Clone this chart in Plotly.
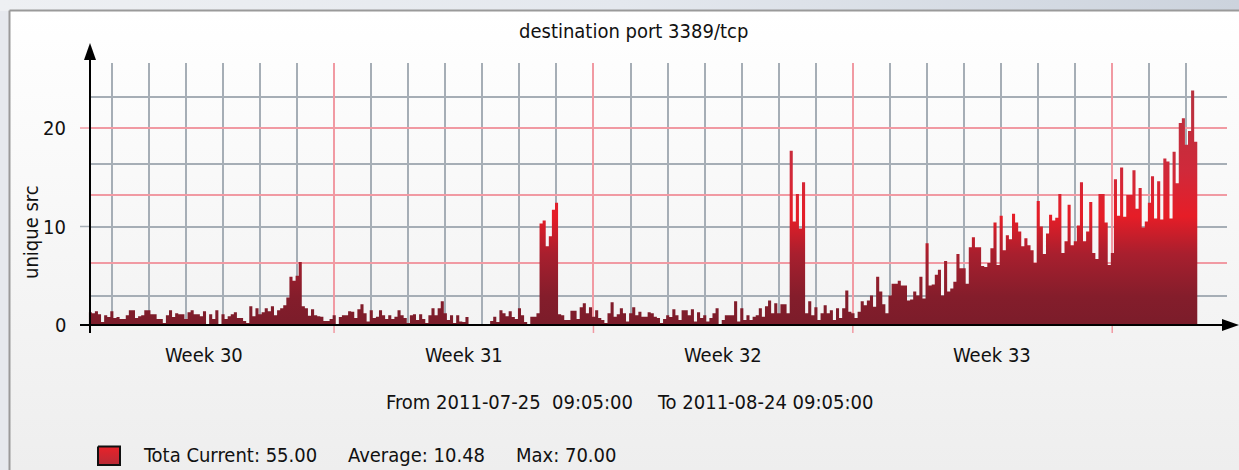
import pandas as pd
import plotly.graph_objects as go

# ---- series: unique sources per 2-hour bin, starting 2011-07-25 09:05 ----
series_start = "2011-07-25 09:05"
bin_hours = 2
unique_src = [
    1.3, 1.2, 1.4, 1.1, 0.3, 1.0, 0.8, 1.4, 0.7, 0.8,
    0.6, 0.6, 1.0, 1.5, 1.5, 0.7, 0.9, 1.0, 1.5, 1.5,
    1.1, 1.1, 0.6, 0.6, 0.2, 1.0, 1.5, 0.8, 1.2, 1.1,
    1.1, 0.6, 1.3, 1.5, 1.1, 1.1, 0.9, 1.4, 0.1, 1.1,
    0.6, 1.5, 0.1, 1.1, 0.6, 0.9, 1.1, 1.3, 0.7, 0.7,
    0.4, 0.2, 1.9, 0.9, 1.7, 1.1, 1.3, 1.7, 1.4, 1.9,
    1.0, 1.5, 1.7, 2.0, 2.8, 4.9, 4.5, 5.0, 6.4, 1.9,
    1.7, 0.95, 1.6, 1.0, 0.9, 0.85, 0.4, 0.4, 0.6, 1.0,
    0.1, 0.8, 1.0, 1.0, 1.4, 1.35, 0.7, 1.6, 2.1, 1.2,
    0.35, 1.5, 0.7, 0.85, 1.5, 1.0, 0.6, 1.0, 0.6, 0.85,
    1.5, 1.0, 0.7, 0.2, 1.0, 1.1, 0.5, 1.1, 0.6, 0.2,
    1.0, 1.7, 1.0, 1.7, 2.4, 1.2, 0.5, 1.0, 0.2, 1.0,
    0.35, 0.3, 0.8, 0.0, 0.0, 0.0, 0.0, 0.0, 0.0, 0.0,
    0.4, 0.85, 0.3, 1.5, 1.2, 0.9, 1.4, 0.8, 0.6, 1.7,
    1.0, 0.3, 0.1, 0.85, 0.85, 1.2, 10.3, 10.6, 8.0, 9.0,
    11.7, 12.4, 1.1, 1.0, 0.5, 0.5, 1.45, 1.45, 0.6, 1.8,
    2.2, 1.2, 1.8, 0.85, 1.5, 0.7, 0.5, 0.2, 1.2, 2.3,
    0.85, 1.1, 1.7, 1.2, 0.35, 1.2, 1.8, 1.0, 1.35, 0.85,
    0.85, 1.3, 1.2, 0.85, 0.7, 0.2, 0.6, 1.0, 0.8, 1.6,
    1.0, 0.5, 1.5, 1.5, 1.0, 1.6, 0.35, 1.3, 0.7, 1.0,
    0.35, 0.7, 1.2, 1.7, 0.05, 0.5, 1.0, 1.0, 1.0, 2.4,
    0.35, 1.7, 0.5, 1.0, 0.5, 0.85, 1.0, 1.7, 0.85, 1.9,
    2.5, 1.2, 2.2, 1.2, 2.1, 2.1, 1.2, 17.7, 10.5, 13.3,
    9.8, 14.5, 1.2, 2.4, 1.0, 1.8, 0.5, 1.2, 2.0, 1.2,
    1.5, 0.5, 1.7, 0.7, 1.7, 3.5, 1.35, 1.2, 0.7, 1.35,
    2.4, 2.0, 2.5, 3.0, 1.85, 4.9, 3.4, 2.1, 1.2, 3.0,
    4.2, 4.2, 4.5, 4.0, 4.0, 2.5, 2.6, 3.4, 3.0, 4.9,
    2.7, 8.3, 4.0, 4.1, 5.1, 5.6, 3.0, 6.5, 3.4, 3.7,
    4.4, 7.2, 5.75, 5.75, 4.2, 7.9, 8.9, 7.9, 7.9, 6.0,
    5.9, 6.3, 7.8, 10.4, 6.1, 11.1, 7.6, 9.1, 8.7, 11.3,
    10.4, 9.5, 8.0, 8.8, 8.1, 7.6, 6.3, 12.6, 10.0, 7.2,
    9.3, 11.2, 10.6, 10.9, 13.3, 7.3, 8.5, 12.2, 8.1, 8.5,
    10.1, 14.5, 8.5, 9.5, 12.5, 7.3, 6.7, 13.3, 13.3, 10.4,
    6.1, 7.3, 14.8, 11.1, 16.0, 11.0, 13.2, 13.2, 15.7, 11.8,
    13.9, 9.9, 10.5, 12.4, 15.1, 10.8, 14.6, 10.7, 16.9, 16.6,
    10.8, 17.6, 14.4, 20.5, 21.0, 18.3, 19.7, 23.8, 18.6,
]

# ---- axes / labels ----
x_range = ["2011-07-25 09:05", "2011-08-25 02:20"]
y_range = [0, 26.6]
y_tick_values = [0, 10, 20]
y_grid_red = [6.3, 13.2, 20.0]
y_grid_gray = [2.95, 9.95, 16.3, 23.1]
day_lines = pd.date_range("2011-07-26", "2011-08-24", freq="D")
week_starts = [d for d in day_lines if d.weekday() == 0]
other_days = [d for d in day_lines if d.weekday() != 0]
week_labels = ["Week 30", "Week 31", "Week 32", "Week 33"]
week_label_times = ["2011-07-28 12:00", "2011-08-04 12:00", "2011-08-11 12:00", "2011-08-18 18:00"]
title_text = "destination port 3389/tcp"
y_title = "unique src"
period_texts = ["From 2011-07-25\u00a0\u00a009:05:00", "To 2011-08-24 09:05:00"]
legend_texts = ["Tota Current: 55.00", "Average: 10.48", "Max: 70.00"]

FONT = "DejaVu Sans Condensed, sans-serif"
FS = 20
INK = "#111111"
GRID_GRAY = "#a6aeb6"
GRID_RED = "#f19aa3"

W, H = 1239, 470
PX_LEFT, PX_RIGHT, PX_TOP, PX_BASE = 88.7, 1227.0, 63.0, 325.0

start = pd.Timestamp(series_start)
step = pd.Timedelta(hours=bin_hours)
times = [start + step * i for i in range(len(unique_src))]
# closing edge of the last step
step_x = times + [times[-1] + step]
step_y = unique_src + [unique_src[-1]]

fig = go.Figure()

# pixel-space backdrop (x, y) covering the whole figure
fig.add_trace(go.Scatter(
    x=[0, W + 5, W + 5, 0, 0], y=[-2, -2, 11, 11, -2],
    mode="lines", fill="toself", line=dict(width=0),
    fillgradient=dict(type="horizontal", start=0, stop=W,
                      colorscale=[[0, "#eef0f3"], [0.5, "#e4e8ee"], [1, "#ccd3dd"]]),
    hoverinfo="skip", xaxis="x", yaxis="y",
))
fig.add_trace(go.Scatter(
    x=[9.5, W + 6, W + 6, 9.5, 9.5], y=[10.5, 10.5, H + 6, H + 6, 10.5],
    mode="lines", fill="toself", line=dict(color="#9a9a9a", width=2),
    fillgradient=dict(type="vertical", start=10, stop=H,
                      colorscale=[[0, "#ffffff"], [1, "#eeeeee"]]),
    hoverinfo="skip", xaxis="x", yaxis="y",
))
# legend swatch
fig.add_trace(go.Scatter(
    x=[98, 120, 120, 98, 98], y=[446.5, 446.5, 465, 465, 446.5],
    mode="lines", fill="toself", line=dict(color="#111111", width=2),
    fillgradient=dict(type="vertical", start=446, stop=465,
                      colorscale=[[0, "#ea2229"], [1, "#b82a36"]]),
    hoverinfo="skip", xaxis="x", yaxis="y",
))

# data: step area with a value-based vertical gradient
fig.add_trace(go.Scatter(
    x=step_x, y=step_y, mode="lines", line=dict(shape="hv", width=0, color="#8a1e2c"),
    fill="tozeroy",
    fillgradient=dict(type="vertical", start=0, stop=24,
                      colorscale=[[0.0, "#7b1c2a"], [0.12, "#841d2b"], [0.3, "#a81f2e"],
                                  [0.46, "#e61d27"], [0.65, "#d0293a"], [1.0, "#b5323f"]]),
    hoverinfo="skip", xaxis="x2", yaxis="y2",
))

shapes = []
# y axis with arrow
shapes.append(dict(type="line", xref="x", yref="y", x0=90, x1=90, y0=333, y1=58,
                   line=dict(color="#000", width=2), layer="above"))
shapes.append(dict(type="path", xref="x", yref="y", path="M 84 60 L 90 43 L 96 60 Z",
                   fillcolor="#000", line=dict(width=0), layer="above"))
# x axis with arrow
shapes.append(dict(type="line", xref="x", yref="y", x0=80, x1=1224, y0=PX_BASE, y1=PX_BASE,
                   line=dict(color="#000", width=2), layer="above"))
shapes.append(dict(type="path", xref="x", yref="y", path="M 1222 319 L 1239 325 L 1222 331 Z",
                   fillcolor="#000", line=dict(width=0), layer="above"))
# week ticks below the axis
for d in week_starts:
    shapes.append(dict(type="line", xref="x2", yref="y", x0=d, x1=d, y0=PX_BASE + 1, y1=333,
                       line=dict(color=GRID_RED, width=1.5), layer="above"))
# value ticks left of the axis
for v in y_tick_values[1:]:
    shapes.append(dict(type="line", xref="x", yref="y2", x0=80, x1=89, y0=v, y1=v,
                       line=dict(color=GRID_RED if v == 20 else GRID_GRAY, width=1.5), layer="above"))

annotations = []
annotations.append(dict(xref="x", yref="y", x=633, y=31, text=title_text, showarrow=False,
                        font=dict(family=FONT, size=FS, color=INK)))
annotations.append(dict(xref="x", yref="y", x=31, y=232, text=y_title, showarrow=False,
                        textangle=-90, font=dict(family=FONT, size=FS, color=INK)))
for v in y_tick_values:
    annotations.append(dict(xref="x", yref="y2", x=68, y=v, text=str(v), showarrow=False,
                            xanchor="right", font=dict(family=FONT, size=FS, color=INK)))
for t, lbl in zip(week_label_times, week_labels):
    annotations.append(dict(xref="x2", yref="y", x=t, y=355, text=lbl, showarrow=False,
                            font=dict(family=FONT, size=FS, color=INK)))
for px, txt in zip([384, 655], period_texts):
    annotations.append(dict(xref="x", yref="y", x=px, y=402, text=txt, showarrow=False,
                            xanchor="left", font=dict(family=FONT, size=FS, color=INK)))
for px, txt in zip([141, 346, 514], legend_texts):
    annotations.append(dict(xref="x", yref="y", x=px, y=455, text=txt, showarrow=False,
                            xanchor="left", font=dict(family=FONT, size=FS, color=INK)))

fig.update_layout(
    width=W, height=H, margin=dict(l=0, r=0, t=0, b=0),
    paper_bgcolor="#e6e9ee", plot_bgcolor="rgba(0,0,0,0)", showlegend=False,
    xaxis=dict(domain=[0, 1], range=[0, W], visible=False, fixedrange=True),
    yaxis=dict(domain=[0, 1], range=[H, 0], visible=False, fixedrange=True),
    xaxis2=dict(domain=[PX_LEFT / W, PX_RIGHT / W], range=x_range, type="date", anchor="y2",
                showticklabels=False, ticks="", zeroline=False, showline=False,
                tickvals=week_starts, showgrid=True, gridcolor=GRID_RED, gridwidth=1.5,
                minor=dict(tickvals=other_days, showgrid=True, gridcolor=GRID_GRAY, gridwidth=1.5)),
    yaxis2=dict(domain=[(H - PX_BASE) / H, (H - PX_TOP) / H], range=y_range, anchor="x2",
                showticklabels=False, ticks="", zeroline=False, showline=False,
                tickvals=y_grid_red, showgrid=True, gridcolor=GRID_RED, gridwidth=1.5,
                minor=dict(tickvals=y_grid_gray, showgrid=True, gridcolor=GRID_GRAY, gridwidth=1.5)),
    shapes=shapes, annotations=annotations,
)

fig.write_html("out.html")
